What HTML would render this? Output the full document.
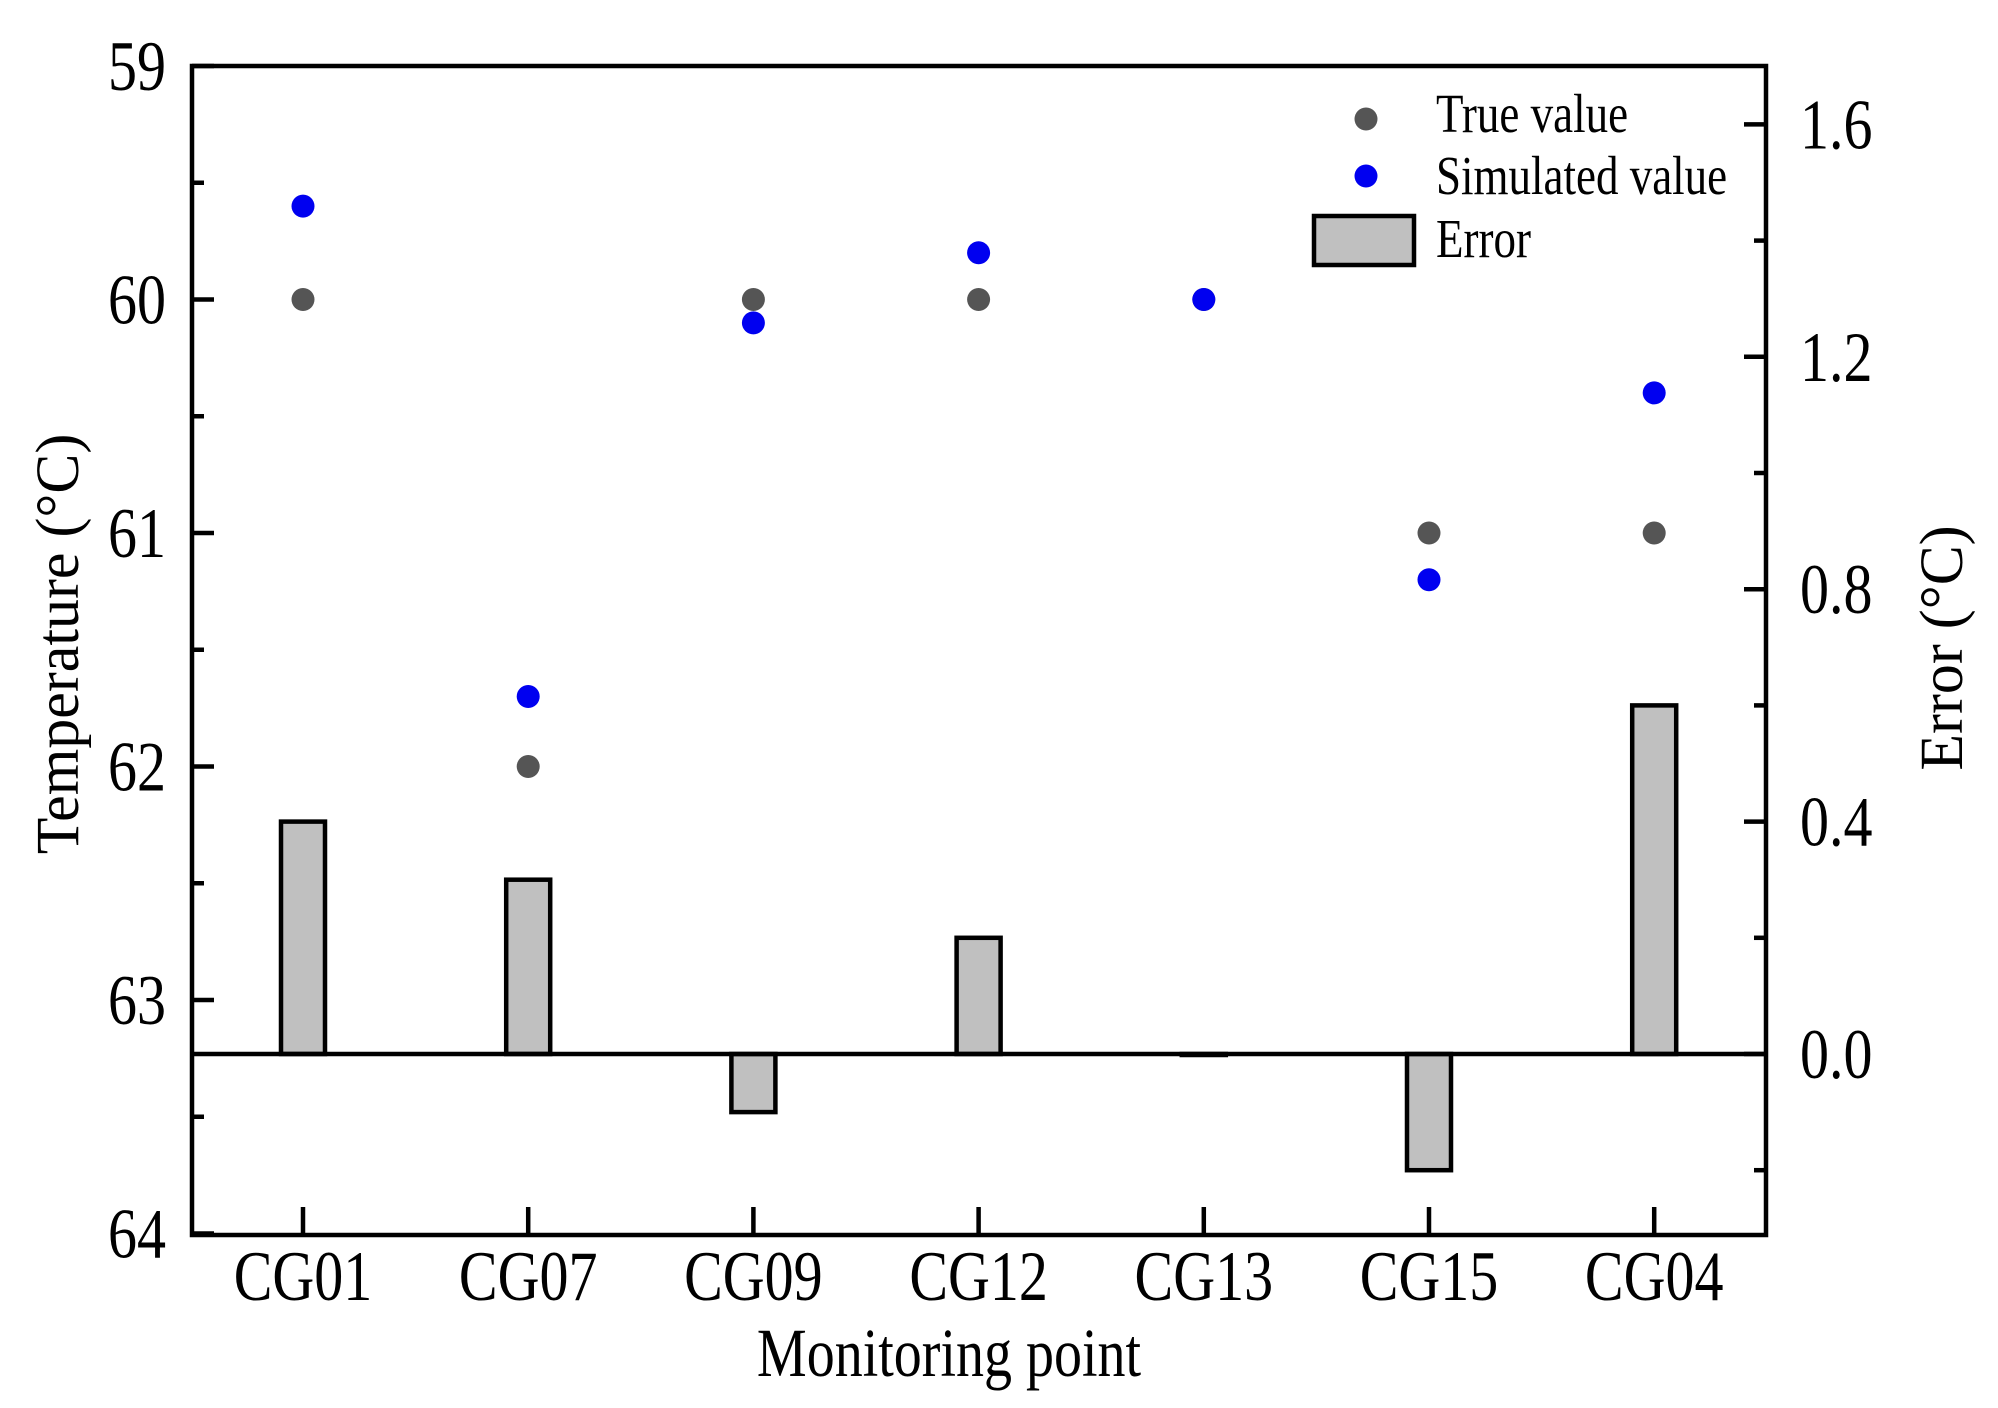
<!DOCTYPE html>
<html><head><meta charset="utf-8"><style>
html,body{margin:0;padding:0;background:#fff;}
svg{display:block;font-family:"Liberation Serif",serif;}
</style></head><body>
<svg id="chart" width="1998" height="1408" viewBox="0 0 1998 1408">
</svg>
<script>
const categories = ["CG01","CG07","CG09","CG12","CG13","CG15","CG04"];
const trueValues = [60, 62, 60, 60, 60, 61, 61];
const simValues = [59.6, 61.7, 60.1, 59.8, 60.0, 61.2, 60.4];
const errorValues = [0.4, 0.3, -0.1, 0.2, 0.0, -0.2, 0.6];
const leftTicks = [59, 60, 61, 62, 63, 64];
const rightTicks = [0.0, 0.4, 0.8, 1.2, 1.6];

const NS = "http://www.w3.org/2000/svg";
const svg = document.getElementById("chart");
const L = 192, R = 1766, T = 66, B = 1235;
function yL(v){ return 66 + (v - 59) * 233.5; }
function yR(v){ return 1054 - v * 581; }
function xC(i){ return 303 + i * 225.2; }
function mk(tag, attrs, parent){
  const e = document.createElementNS(NS, tag);
  for (const k in attrs) e.setAttribute(k, attrs[k]);
  (parent || svg).appendChild(e);
  return e;
}
function txt(x, y, s, size, anchor){
  const t = mk("text", {transform: "translate(" + x + "," + y + ") scale(1,1.22)", "text-anchor": anchor || "start", "font-size": size});
  t.textContent = s;
  return t;
}

// bars
const gBars = mk("g", {});


errorValues.forEach((v, i) => {
  const y0 = yR(0), y1 = yR(v);
  const r = mk("rect", {x: xC(i) - 22, y: Math.min(y0, y1), width: 44, height: Math.max(Math.abs(y1 - y0), 1), fill: "#c0c0c0", stroke: "#000", "stroke-width": 4.5}, gBars);
  
  
});
// zero line
const zl = mk("line", {x1: L, x2: R, y1: yR(0), y2: yR(0), stroke: "#000", "stroke-width": 4.5});



// frame
const frame = mk("rect", {x: L, y: T, width: R - L, height: B - T, fill: "none", stroke: "#000", "stroke-width": 4.5});



// left ticks
for (let v = 59; v <= 64.001; v += 0.5) {
  const major = Math.abs(v - Math.round(v)) < 0.01;
  mk("line", {x1: L, x2: L + (major ? 22 : 12), y1: yL(v), y2: yL(v), stroke: "#000", "stroke-width": 4.5});
}
leftTicks.forEach(v => {
  const t = txt(166, yL(v) + 24, String(v), 58, "end");
  
  
});
// right ticks
for (let k = -1; k <= 8; k++) {
  const v = k * 0.2;
  const major = k % 2 === 0;
  mk("line", {x1: R, x2: R - (major ? 22 : 12), y1: yR(v), y2: yR(v), stroke: "#000", "stroke-width": 4.5});
}
rightTicks.forEach(v => {
  const t = txt(1800, yR(v) + 24, v.toFixed(1), 58, "start");
  
  
});
// x ticks & labels
categories.forEach((c, i) => {
  mk("line", {x1: xC(i), x2: xC(i), y1: B, y2: B - 28, stroke: "#000", "stroke-width": 4.5});
  const t = txt(xC(i), 1300, c, 58, "middle");
  
  
});

// points
trueValues.forEach((v, i) => {
  const c = mk("circle", {cx: xC(i), cy: yL(v), r: 11.5, fill: "#555"});
  
  
});
simValues.forEach((v, i) => {
  const c = mk("circle", {cx: xC(i), cy: yL(v), r: 11.5, fill: "#0000f0"});
  
  
});
</script>
<script>
(function(){
  const NS = "http://www.w3.org/2000/svg";
  const svg = document.getElementById("chart");
  const g = document.createElementNS(NS, "g");
  g.innerHTML =
   '<text transform="translate(949,1376) scale(1,1.22)" text-anchor="middle" font-size="56">Monitoring point</text>' +
   '<text transform="translate(78,644) rotate(-90) scale(1.07,1.1)" text-anchor="middle" font-size="56">Temperature (°C)</text>' +
   '<text transform="translate(1962,648) rotate(-90) scale(1.07,1.1)" text-anchor="middle" font-size="56">Error (°C)</text>' +
   '<g>' +
   '<circle cx="1366" cy="119" r="11.5" fill="#555"/>' +
   '<text transform="translate(1436,132) scale(1,1.22)" font-size="45">True value</text>' +
   '<circle cx="1366" cy="176" r="11.5" fill="#0000f0"/>' +
   '<text transform="translate(1436,194) scale(1,1.22)" font-size="45">Simulated value</text>' +
   '<rect x="1314" y="216" width="100" height="49" fill="#c0c0c0" stroke="#000" stroke-width="4.5"/>' +
   '<text transform="translate(1436,257) scale(1,1.22)" font-size="45">Error</text>' +
   '</g>';
  
  
  svg.appendChild(g);
})();
</script>
</body></html>
